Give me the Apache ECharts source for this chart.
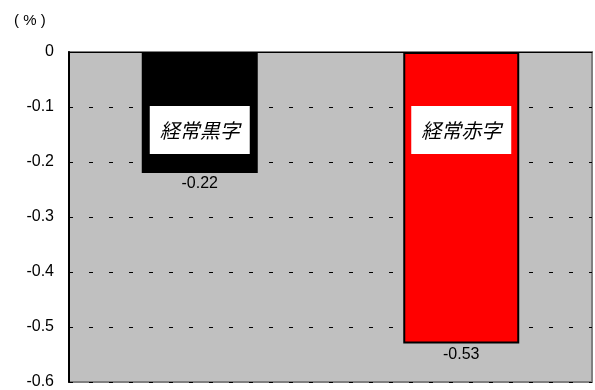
<!DOCTYPE html>
<html lang="ja">
<head>
    <meta charset="utf-8"/>
    <script src="https://cdn.jsdelivr.net/npm/echarts@6/dist/echarts.min.js"></script>
</head>
<body style="margin: 0">
<div id="container" style="width: 595px;height:390px;"></div>
<script type="text/javascript">
    // データ
    var categories = ['経常黒字', '経常赤字'];
    var values = [-0.22, -0.53];
    var barColors = ['#000000', '#ff0000'];
    var yTicks = [0, -0.1, -0.2, -0.3, -0.4, -0.5, -0.6];

    var myChart = echarts.init(document.getElementById('container'));

    var option = {
        animation: false,
        textStyle: {fontFamily: 'Liberation Sans, Arial, sans-serif'},
        title: {
            text: '( % )',
            left: 9,
            top: 8,
            textStyle: {fontSize: 15, fontWeight: 'normal', color: '#000'}
        },
        grid: {
            left: 69, top: 52, right: 3, bottom: 8,
            show: true,
            backgroundColor: '#c0c0c0',
            borderColor: '#808080',
            borderWidth: 2
        },
        xAxis: {
            type: 'category',
            data: categories,
            axisLine: {lineStyle: {color: '#000', width: 1}},
            axisTick: {show: false},
            axisLabel: {show: false}
        },
        yAxis: {
            type: 'value',
            min: yTicks[yTicks.length - 1],
            max: yTicks[0],
            interval: 0.1,
            axisLine: {show: true, lineStyle: {color: '#000', width: 2}},
            axisTick: {show: true, inside: true, length: 4, lineStyle: {color: '#000'}},
            axisLabel: {
                color: '#000', fontSize: 16, margin: 15,
                formatter: function (v) {
                    var r = Math.round(v * 10) / 10;
                    return r < 0 ? '-' + String(-r) : String(r);
                }
            },
            splitLine: {lineStyle: {color: '#000', type: [4, 16], width: 1}}
        },
        series: [
            {
                type: 'bar',
                barWidth: 116,
                data: values.map(function (v, i) {
                    return {
                        value: v,
                        itemStyle: {color: barColors[i], borderColor: '#000', borderWidth: 2}
                    };
                }),
                label: {
                    show: true,
                    position: 'bottom',
                    distance: 3,
                    color: '#000',
                    fontSize: 16
                }
            },
            {
                type: 'bar',
                barWidth: 116,
                barGap: '-100%',
                silent: true,
                itemStyle: {color: 'rgba(0,0,0,0)'},
                data: values,
                label: {
                    show: true,
                    position: 'insideTop',
                    distance: 54,
                    formatter: function (p) { return categories[p.dataIndex]; },
                    backgroundColor: '#fff',
                    color: '#000',
                    fontFamily: 'Noto Sans CJK JP',
                    fontStyle: 'italic',
                    fontSize: 20,
                    width: 80,
                    height: 20,
                    align: 'center',
                    padding: [14, 10]
                }
            }
        ]
    };

    myChart.setOption(option);
</script>
</body>
</html>
